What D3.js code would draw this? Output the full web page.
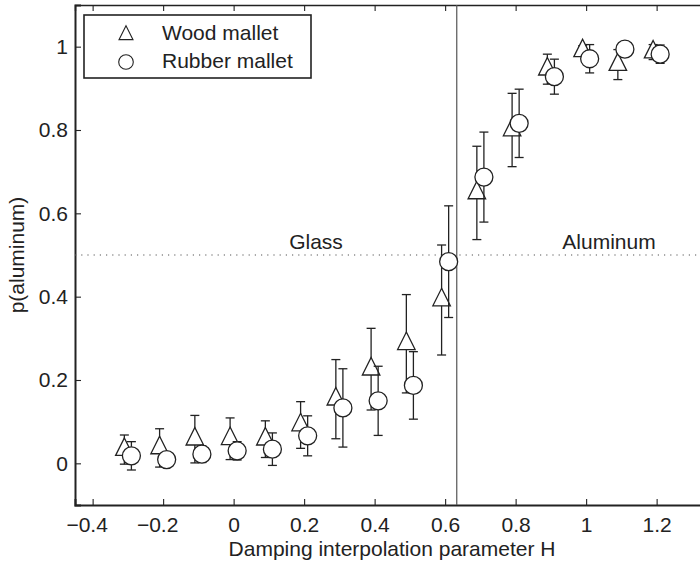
<!DOCTYPE html>
<html>
<head>
<meta charset="utf-8">
<script src="https://cdn.jsdelivr.net/npm/d3@7"></script>
<style>
  body { margin: 0; background: white; }
  svg { display: block; font-family: "Liberation Sans", Arial, Helvetica, sans-serif; }
</style>
</head>
<body>
<div id="plot"></div>
<script>
////////////////////////////////////////////////////////////////////////
// Data

let hValues   = [-0.3, -0.2, -0.1, 0, 0.1, 0.2, 0.3, 0.4, 0.5, 0.6, 0.7, 0.8, 0.9, 1.0, 1.1, 1.2];

let woodP     = [0.033, 0.037, 0.058, 0.059, 0.058, 0.092, 0.154, 0.226, 0.287, 0.392, 0.649, 0.800, 0.946, 0.990, 0.957, 0.987];
let woodErr   = [0.035, 0.046, 0.057, 0.050, 0.044, 0.056, 0.095, 0.098, 0.118, 0.132, 0.112, 0.088, 0.036, 0.012, 0.036, 0.018];

let rubberP   = [0.018, 0.009, 0.022, 0.030, 0.034, 0.066, 0.133, 0.150, 0.187, 0.484, 0.687, 0.816, 0.928, 0.971, 0.994, 0.982];
let rubberErr = [0.034, 0.015, 0.020, 0.022, 0.039, 0.048, 0.094, 0.083, 0.081, 0.134, 0.108, 0.082, 0.042, 0.034, 0.008, 0.022];

let xTicks = [-0.4, -0.2, 0, 0.2, 0.4, 0.6, 0.8, 1, 1.2];
let yTicks = [0, 0.2, 0.4, 0.6, 0.8, 1];

let boundaryH = 0.633;   // category boundary (vertical line)
let chanceP = 0.5;       // dotted line

let legendLabels = ["Wood mallet", "Rubber mallet"];

////////////////////////////////////////////////////////////////////////
// Layout

let width = 700, height = 566;
let ink = "#222";
let fontSize = 21;

let xScale = d3.scaleLinear().domain([-0.45, 1.35]).range([75, 709.5]);
let yScale = d3.scaleLinear().domain([-0.1, 1.1]).range([505, 5]);

let svg = d3.select("#plot")
  .append("svg")
  .attr("width", width)
  .attr("height", height);

let fmt = d3.format("");   // d3 gives the unicode minus

// bottom and top axes (ticks inside)
let xAxis = svg.append("g")
  .attr("transform", "translate(0," + yScale.range()[0] + ")")
  .call(d3.axisBottom(xScale).tickValues(xTicks).tickSize(-6).tickPadding(12).tickFormat(fmt));

svg.append("g")
  .attr("transform", "translate(0," + yScale.range()[1] + ")")
  .call(d3.axisTop(xScale).tickValues(xTicks).tickSize(-6).tickFormat(""));

let yAxis = svg.append("g")
  .attr("transform", "translate(" + xScale.range()[0] + ",0)")
  .call(d3.axisLeft(yScale).tickValues(yTicks).tickSize(-6).tickPadding(7).tickFormat(fmt));

svg.selectAll(".domain").attr("stroke", ink).attr("stroke-width", 1.4);
svg.selectAll(".tick line").attr("stroke", ink).attr("stroke-width", 1.1);
svg.selectAll(".tick text").attr("font-size", fontSize).attr("fill", ink).attr("font-family", null);
xAxis.selectAll(".domain").attr("stroke-width", 2);
yAxis.selectAll(".domain").attr("stroke-width", 2);

// negative labels sit a little left of their tick in the original
xAxis.selectAll(".tick text")
  .attr("dx", function(d) { return d < 0 ? -6 : 0; });

// right border (mostly off canvas)
svg.append("line")
  .attr("x1", xScale.range()[1]).attr("x2", xScale.range()[1])
  .attr("y1", yScale.range()[0]).attr("y2", yScale.range()[1])
  .attr("stroke", ink).attr("stroke-width", 1.4);

// axis titles
svg.append("text")
  .attr("x", 392)
  .attr("y", 556)
  .attr("text-anchor", "middle")
  .attr("font-size", fontSize)
  .attr("fill", ink)
  .text("Damping interpolation parameter H");

svg.append("text")
  .attr("transform", "translate(24," + (yScale.range()[0] + yScale.range()[1]) / 2 + ") rotate(-90)")
  .attr("text-anchor", "middle")
  .attr("font-size", fontSize)
  .attr("fill", ink)
  .text("p(aluminum)");

////////////////////////////////////////////////////////////////////////
// Reference lines

svg.append("line")
  .attr("x1", xScale.range()[0]).attr("x2", width)
  .attr("y1", yScale(chanceP)).attr("y2", yScale(chanceP))
  .attr("stroke", "#555").attr("stroke-width", 1.2)
  .attr("stroke-dasharray", "1.2,5");

svg.append("line")
  .attr("x1", xScale(boundaryH)).attr("x2", xScale(boundaryH))
  .attr("y1", yScale.range()[0]).attr("y2", yScale.range()[1])
  .attr("stroke", "#555").attr("stroke-width", 1.2);

svg.append("text")
  .attr("x", 316).attr("y", yScale(chanceP) - 6)
  .attr("text-anchor", "middle")
  .attr("font-size", fontSize).attr("fill", ink)
  .text("Glass");

svg.append("text")
  .attr("x", 609).attr("y", yScale(chanceP) - 6)
  .attr("text-anchor", "middle")
  .attr("font-size", fontSize).attr("fill", ink)
  .text("Aluminum");

////////////////////////////////////////////////////////////////////////
// Markers and error bars

function triangle(s) {
  // centroid at the origin, apex up
  let hw = s / 2, up = s * 2 / 3, down = s / 3;
  return "M0," + (-up) + " L" + hw + "," + down + " L" + (-hw) + "," + down + " Z";
}

function makeRows(p, err, dx) {
  return hValues.map(function(h, i) {
    return { h: h + dx, p: p[i], e: err[i] };
  });
}

function drawErrorBars(rows) {
  let g = svg.append("g")
    .selectAll("g")
    .data(rows)
    .enter()
    .append("g")
    .attr("stroke", ink)
    .attr("stroke-width", 1.3);
  g.append("line")
    .attr("x1", function(d) { return xScale(d.h); })
    .attr("x2", function(d) { return xScale(d.h); })
    .attr("y1", function(d) { return yScale(d.p - d.e); })
    .attr("y2", function(d) { return yScale(d.p + d.e); });
  [-1, 1].forEach(function(sign) {
    g.append("line")
      .attr("x1", function(d) { return xScale(d.h) - 4.5; })
      .attr("x2", function(d) { return xScale(d.h) + 4.5; })
      .attr("y1", function(d) { return yScale(d.p + sign * d.e); })
      .attr("y2", function(d) { return yScale(d.p + sign * d.e); });
  });
}

let woodRows = makeRows(woodP, woodErr, -0.01);
let rubberRows = makeRows(rubberP, rubberErr, 0.01);

drawErrorBars(woodRows);
svg.append("g")
  .selectAll("path")
  .data(woodRows)
  .enter()
  .append("path")
  .attr("transform", function(d) { return "translate(" + xScale(d.h) + "," + yScale(d.p) + ")"; })
  .attr("d", triangle(17.5))
  .attr("fill", "white")
  .attr("stroke", ink)
  .attr("stroke-width", 1.3);

drawErrorBars(rubberRows);
svg.append("g")
  .selectAll("circle")
  .data(rubberRows)
  .enter()
  .append("circle")
  .attr("cx", function(d) { return xScale(d.h); })
  .attr("cy", function(d) { return yScale(d.p); })
  .attr("r", 9)
  .attr("fill", "white")
  .attr("stroke", ink)
  .attr("stroke-width", 1.3);

////////////////////////////////////////////////////////////////////////
// Legend

let legend = svg.append("g");
legend.append("rect")
  .attr("x", 84).attr("y", 15)
  .attr("width", 227).attr("height", 63)
  .attr("fill", "white")
  .attr("stroke", ink)
  .attr("stroke-width", 1.6);

legend.append("path")
  .attr("transform", "translate(126,35)")
  .attr("d", triangle(14))
  .attr("fill", "white").attr("stroke", ink).attr("stroke-width", 1.1);

legend.append("circle")
  .attr("cx", 126).attr("cy", 62).attr("r", 7.3)
  .attr("fill", "white").attr("stroke", ink).attr("stroke-width", 1.1);

legend.selectAll("text")
  .data(legendLabels)
  .enter()
  .append("text")
  .attr("x", 162)
  .attr("y", function(d, i) { return 40 + i * 28; })
  .attr("font-size", fontSize)
  .attr("fill", ink)
  .text(function(d) { return d; });
</script>
</body>
</html>
